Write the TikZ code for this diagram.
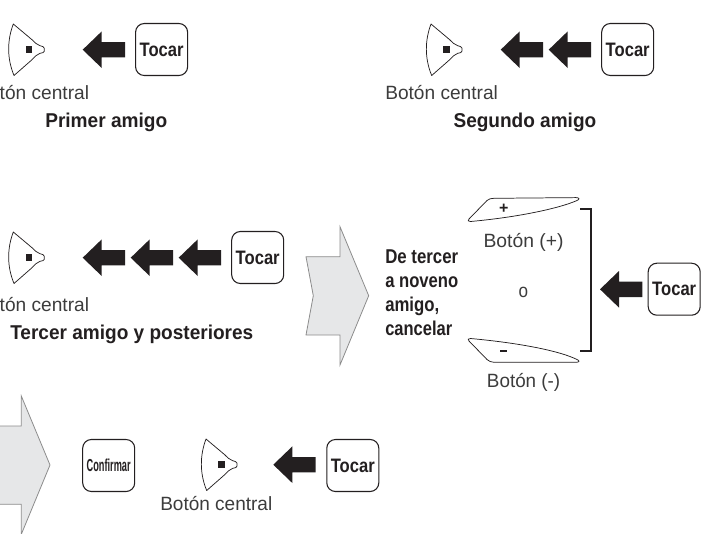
\documentclass[tikz,border=0pt]{standalone}
\usepackage{fontspec}
\usepackage{graphicx}
\setmainfont{Liberation Sans}
\newlength\pxu
\setlength\pxu{0.75pt}
\definecolor{lighttext}{HTML}{3C3C3C}
\definecolor{inkblack}{HTML}{231F20}
\definecolor{biggray}{HTML}{E6E7E8}
\definecolor{bigedge}{HTML}{8C8C8C}
% text set to an exact width in px
\newcommand{\lighttxt}[2]{\resizebox{#1\pxu}{\height}{\fontsize{14.4pt}{16pt}\selectfont #2}}
\newcommand{\boldtxt}[2]{\resizebox{#1\pxu}{\height}{\fontsize{15pt}{17pt}\selectfont\bfseries #2}}
\tikzset{
  x=0.75pt, y=-0.75pt,
  keybox/.style={draw=inkblack, line width=0.8pt, rounded corners=6.5pt, minimum size=39pt, inner sep=0pt, fill=white, text=inkblack},
  label/.style={inner sep=0pt, text=lighttext},
  title/.style={inner sep=0pt, text=inkblack},
  cbtn/.pic={
    \draw[inkblack, line width=0.55pt, line join=round]
      (-15.7,-25.7) -- (3,-10) .. controls (6,-7) and (8,-5) .. (11,-4)
      .. controls (13,-3.5) and (15.3,-3) .. (15.3,-1.5) -- (15.3,1.5)
      .. controls (15.3,3) and (13,3.2) .. (11,3.6)
      .. controls (8,4.5) and (6,7) .. (3,10) -- (-15,25.8)
      .. controls (-22,9) and (-22,-9) .. (-15.7,-25.7) -- cycle;
    \fill[inkblack] (-3.3,-3.3) rectangle (3.3,3.3);
  },
  blackarrow/.pic={
    \fill[inkblack] (0,0) -- (19,-18.3) -- (19,-7.7) -- (42.3,-7.7) -- (42.3,7.7) -- (19,7.7) -- (19,18.3) -- cycle;
  },
  bigarrow/.pic={
    \filldraw[fill=biggray, draw=bigedge, line width=0.6pt, line join=miter]
      (306,256.7) -- (340,256.7) -- (340,226.7) -- (368.7,295.7) -- (340,365) -- (340,335) -- (306,335) -- (313.3,295.7) -- cycle;
  },
}
\newcommand{\tocartxt}{\resizebox{44\pxu}{\height}{\fontsize{14.6pt}{16pt}\selectfont\bfseries Tocar}}
\begin{document}
\begin{tikzpicture}
\useasboundingbox (0,0) rectangle (715,533);
\clip (0,0) rectangle (715,533);

% Row 1
\pic at (29,49.7) {cbtn};
\pic at (82.7,49.7) {blackarrow};
\node[keybox] (t1) at (161.6,49.5) {\tocartxt};
\node[label,anchor=base east] (c1) at (89.3,99) {\lighttxt{112.7}{Botón central}};
\node[title,anchor=base west] (h1) at (45,127.5) {\boldtxt{122}{Primer amigo}};

% Row 2
\pic at (446.7,49.7) {cbtn};
\pic at (500.7,49.7) {blackarrow};
\pic at (548.7,49.7) {blackarrow};
\node[keybox] (t2) at (627.7,49.5) {\tocartxt};
\node[label,anchor=base west] (c2) at (385,99) {\lighttxt{112.7}{Botón central}};
\node[title,anchor=base west] (h2) at (453.3,127.5) {\boldtxt{142.7}{Segundo amigo}};

% Row 3
\pic at (29,257.7) {cbtn};
\pic at (82.7,257.7) {blackarrow};
\pic at (130.7,257.7) {blackarrow};
\pic at (178.7,257.7) {blackarrow};
\node[keybox] (t3) at (257.7,257.5) {\tocartxt};
\node[label,anchor=base east] (c3) at (89.3,311) {\lighttxt{112.7}{Botón central}};
\node[title,anchor=base west] (h3) at (10,339) {\boldtxt{243}{Tercer amigo y posteriores}};

% Big arrows
\pic at (0,0) {bigarrow};
\pic at (-318.7,169.3) {bigarrow};

% Cancel text
\node[title,anchor=base west] (d1) at (385,263.3) {\boldtxt{73}{De tercer}};
\node[title,anchor=base west] (d2) at (385,287.7) {\boldtxt{73}{a noveno}};
\node[title,anchor=base west] (d3) at (385,311.7) {\boldtxt{54}{amigo,}};
\node[title,anchor=base west] (d4) at (385,335) {\boldtxt{67}{cancelar}};

% Plus / minus buttons
\draw[inkblack, line width=0.55pt, line join=round]
  (469,219) -- (487,200.5) .. controls (489,198.8) and (491,198.3) .. (494,198.3)
  -- (576,197.6) .. controls (579.5,197.6) and (580,199.3) .. (577,200.5)
  .. controls (560,208) and (520,217) .. (470.5,221.5)
  .. controls (468,221.5) and (467.5,220.5) .. (469,219) -- cycle;
\node[title,inner sep=0pt] (plus) at (503.7,208.5) {\fontsize{12pt}{12pt}\selectfont\bfseries +};
\node[label,anchor=base west] (bp) at (483.3,247.7) {\lighttxt{80}{Botón (+)}};
\node[label,anchor=base] (oo) at (523.3,297.7) {\lighttxt{9.5}{o}};
\draw[inkblack, line width=1.7pt, line cap=butt, line join=miter] (580,209) -- (591,209) -- (591,350.7) -- (580,350.7);
\draw[inkblack, line width=0.55pt, line join=round]
  (469,341) -- (487,359.5) .. controls (489,361.2) and (491,362.3) .. (494,362.3)
  -- (576,362.3) .. controls (579.5,362.3) and (580,360.7) .. (577,359.5)
  .. controls (560,351) and (520,343) .. (470.5,338.5)
  .. controls (468,338.5) and (467.5,339.5) .. (469,341) -- cycle;
\fill[inkblack] (500,350) rectangle (507,352) node[midway,coordinate] (minus) {};
\node[label,anchor=base west] (bm) at (486.7,387.3) {\lighttxt{73.3}{Botón (-)}};
\pic at (600,289.3) {blackarrow};
\node[keybox] (t5) at (674.2,289.2) {\tocartxt};

% Row 4
\node[keybox] (conf) at (108.7,465.5) {\resizebox{44\pxu}{\height}{\fontsize{13pt}{15pt}\selectfont\bfseries Confirmar}};
\pic at (221.7,464.7) {cbtn};
\pic at (273.3,464.7) {blackarrow};
\node[keybox] (t4) at (352.8,465.5) {\tocartxt};
\node[label,anchor=base west] (c4) at (160,510) {\lighttxt{112}{Botón central}};
\end{tikzpicture}
\end{document}
